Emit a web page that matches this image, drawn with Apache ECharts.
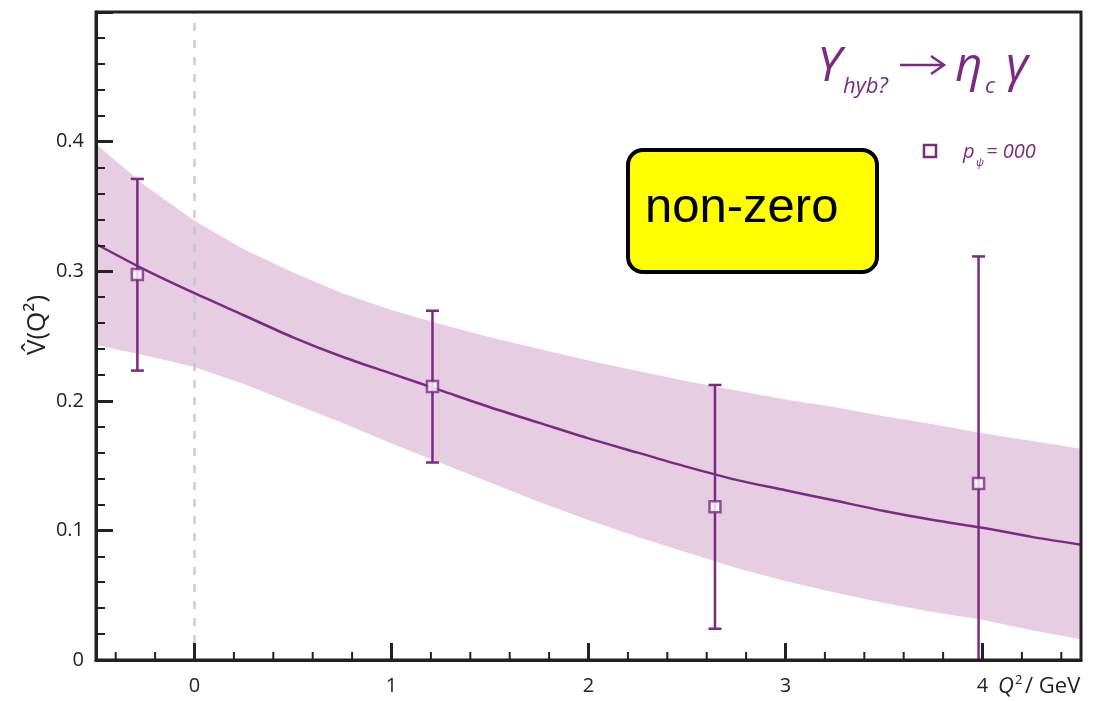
<!DOCTYPE html>
<html>
<head>
<meta charset="utf-8">
<script src="https://cdn.jsdelivr.net/npm/echarts@6/dist/echarts.min.js"></script>
<style>
html,body{margin:0;padding:0;background:#fff;}
#chart{width:1099px;height:701px;}
</style>
</head>
<body>
<div id="chart"></div>
<script>
// ---- data ----
const pointX    = [-0.29, 1.208, 2.642, 3.98];
const pointY    = [0.2975, 0.2110, 0.1182, 0.1362];
const pointLow  = [0.2233, 0.1524, 0.0241, -0.03];
const pointHigh = [0.3712, 0.2695, 0.2122, 0.3114];

const curveX = [-0.5,-0.25,0,0.25,0.5,0.75,1.0,1.25,1.5,1.75,2.0,2.25,2.5,2.75,3.0,3.25,3.5,3.75,4.0,4.25,4.5];
const curveY = [0.321,0.301,0.283,0.266,0.249,0.234,0.221,0.208,0.195,0.183,0.171,0.160,0.149,0.139,0.131,0.123,0.115,0.108,0.102,0.095,0.089];
const bandUpper = [0.398,0.366,0.339,0.317,0.299,0.283,0.270,0.259,0.249,0.240,0.231,0.223,0.215,0.208,0.201,0.195,0.188,0.182,0.175,0.169,0.163];
const bandLower = [0.243,0.235,0.226,0.213,0.198,0.183,0.167,0.152,0.137,0.122,0.108,0.095,0.083,0.071,0.061,0.052,0.044,0.037,0.031,0.023,0.016];

const xMajorTicks = [0,1,2,3,4];
const xMinorTicks = [-0.4,-0.2,0.2,0.4,0.6,0.8,1.2,1.4,1.6,1.8,2.2,2.4,2.6,2.8,3.2,3.4,3.6,3.8,4.2,4.4];
const refLineX = 0;

const PURPLE = '#7b2a82';
const BAND = '#e6cde2';
const AXIS = '#222222';
const FONT = '"Open Sans", "Noto Sans", sans-serif';

const chart = echarts.init(document.getElementById('chart'), null, {renderer:'canvas'});

function tickSeries(vals, len, width){
  return {
    type:'custom', z:12, clip:false, silent:true,
    data: vals.map(v=>[v,0]),
    renderItem:function(params, api){
      const p = api.coord([api.value(0), 0]);
      return {type:'line', shape:{x1:p[0], y1:p[1], x2:p[0], y2:p[1]-len},
              style:{stroke:AXIS, lineWidth:width}};
    }
  };
}

const option = {
  animation:false,
  backgroundColor:'#ffffff',
  grid:{left:96, right:18, top:12, bottom:41, show:true, borderColor:AXIS, borderWidth:3, backgroundColor:'transparent', z:11},
  xAxis:{
    type:'value', min:-0.5, max:4.5, interval:0.5, z:11,
    axisLine:{show:true, onZero:false, lineStyle:{color:AXIS, width:3}},
    axisTick:{show:false},
    splitLine:{show:false},
    axisLabel:{
      color:'#222', fontSize:20, fontFamily:FONT, margin:16,
      formatter:function(v){ return Math.abs(v-Math.round(v))<1e-6 ? String(Math.round(v)) : ''; }
    }
  },
  yAxis:{
    type:'value', min:0, max:0.5, interval:0.1, z:11,
    axisLine:{show:true, onZero:false, lineStyle:{color:AXIS, width:3}},
    axisTick:{show:true, inside:true, length:17, lineStyle:{color:AXIS, width:3}},
    minorTick:{show:true, splitNumber:5, length:9, lineStyle:{color:AXIS, width:2}},
    splitLine:{show:false},
    axisLabel:{
      color:'#222', fontSize:20, fontFamily:FONT, margin:12,
      formatter:function(v){ if (Math.abs(v)<1e-9) return '0'; if (v>0.45) return ''; return v.toFixed(1); }
    }
  },
  series:[
    { // uncertainty band
      type:'custom', z:1, clip:true, silent:true,
      data:[[0]],
      renderItem:function(params, api){
        const pts = [];
        for (let i=0;i<curveX.length;i++) pts.push(api.coord([curveX[i], bandUpper[i]]));
        for (let i=curveX.length-1;i>=0;i--) pts.push(api.coord([curveX[i], bandLower[i]]));
        return {type:'polygon', shape:{points:pts}, style:{fill:BAND}};
      }
    },
    { // fit curve + dashed reference line
      type:'line', z:4, smooth:0.3, showSymbol:false, silent:true,
      data: curveX.map((x,i)=>[x, curveY[i]]),
      lineStyle:{color:PURPLE, width:2.5},
      markLine:{
        silent:true, symbol:['none','none'], z:3,
        label:{show:false},
        lineStyle:{color:'#c4c4c4', width:2.5, type:[8,9], opacity:0.85},
        data:[{xAxis:refLineX}]
      }
    },
    { // error bars
      type:'custom', z:5, clip:true, silent:true,
      data: pointX.map((x,i)=>[x, pointLow[i], pointHigh[i]]),
      renderItem:function(params, api){
        const lo = api.coord([api.value(0), api.value(1)]);
        const hi = api.coord([api.value(0), api.value(2)]);
        const cw = 6.5;
        const st = {stroke:PURPLE, lineWidth:2.5};
        return {type:'group', children:[
          {type:'line', shape:{x1:lo[0], y1:lo[1], x2:hi[0], y2:hi[1]}, style:st},
          {type:'line', shape:{x1:hi[0]-cw, y1:hi[1], x2:hi[0]+cw, y2:hi[1]}, style:st},
          {type:'line', shape:{x1:lo[0]-cw, y1:lo[1], x2:lo[0]+cw, y2:lo[1]}, style:st}
        ]};
      }
    },
    { // data points
      type:'scatter', z:6, symbol:'rect', symbolSize:11, silent:true,
      data: pointX.map((x,i)=>[x, pointY[i]]),
      itemStyle:{color:'#ffffff', borderColor:PURPLE, borderWidth:2.5}
    },
    tickSeries(xMajorTicks, 17, 3),
    tickSeries(xMinorTicks, 8, 2)
  ],
  graphic:[
    // title: Upsilon_hyb? -> eta_c gamma
    {type:'text', x:817, y:43, z:20, style:{text:'Υ', fill:PURPLE, font:'italic 48px '+FONT, verticalAlign:'top'}},
    {type:'text', x:843, y:76, z:20, style:{text:'hyb?', fill:PURPLE, font:'italic 22px '+FONT, verticalAlign:'top'}},
    {type:'line', z:20, shape:{x1:900, y1:65, x2:944, y2:65}, style:{stroke:PURPLE, lineWidth:2.5}},
    {type:'polyline', z:20, shape:{points:[[931,56],[944,65],[931,74]]}, style:{stroke:PURPLE, lineWidth:2.5, fill:null}},
    {type:'text', x:955, y:43, z:20, style:{text:'η', fill:PURPLE, font:'italic 48px '+FONT, verticalAlign:'top'}},
    {type:'text', x:985, y:76, z:20, style:{text:'c', fill:PURPLE, font:'italic 22px '+FONT, verticalAlign:'top'}},
    {type:'text', x:1006, y:43, z:20, style:{text:'γ', fill:PURPLE, font:'italic 48px '+FONT, verticalAlign:'top'}},
    // legend
    {type:'rect', z:20, shape:{x:924, y:145, width:12, height:12}, style:{fill:'#fff', stroke:PURPLE, lineWidth:2.5}},
    {type:'text', x:963, y:142, z:20, style:{text:'p', fill:PURPLE, font:'italic 20px '+FONT, verticalAlign:'top'}},
    {type:'text', x:976, y:157, z:20, style:{text:'ψ', fill:PURPLE, font:'italic 11px '+FONT, verticalAlign:'top'}},
    {type:'text', x:986, y:142, z:20, style:{text:'= 000', fill:PURPLE, font:'italic 20px '+FONT, verticalAlign:'top'}},
    // yellow box
    {type:'rect', z:20, shape:{x:628, y:150, width:249, height:122, r:15}, style:{fill:'#ffff00', stroke:'#000', lineWidth:4}},
    {type:'text', x:645, y:184, z:21, style:{text:'non-zero', fill:'#000', font:'49px "Liberation Sans", Arial, sans-serif', verticalAlign:'top'}},
    // y axis title
    {type:'text', x:38, y:325, rotation:Math.PI/2, z:20, style:{text:'V̂(Q²)', fill:'#222', font:'26px '+FONT, align:'center', verticalAlign:'middle'}},
    // x axis title
    {type:'text', x:998, y:676, z:20, style:{text:'Q', fill:'#222', font:'italic 22px '+FONT, verticalAlign:'top'}},
    {type:'text', x:1015, y:674, z:20, style:{text:'2', fill:'#222', font:'13px '+FONT, verticalAlign:'top'}},
    {type:'text', x:1025, y:676, z:20, style:{text:'/ GeV', fill:'#222', font:'22px '+FONT, verticalAlign:'top'}}
  ]
};
chart.setOption(option);
</script>
</body>
</html>
